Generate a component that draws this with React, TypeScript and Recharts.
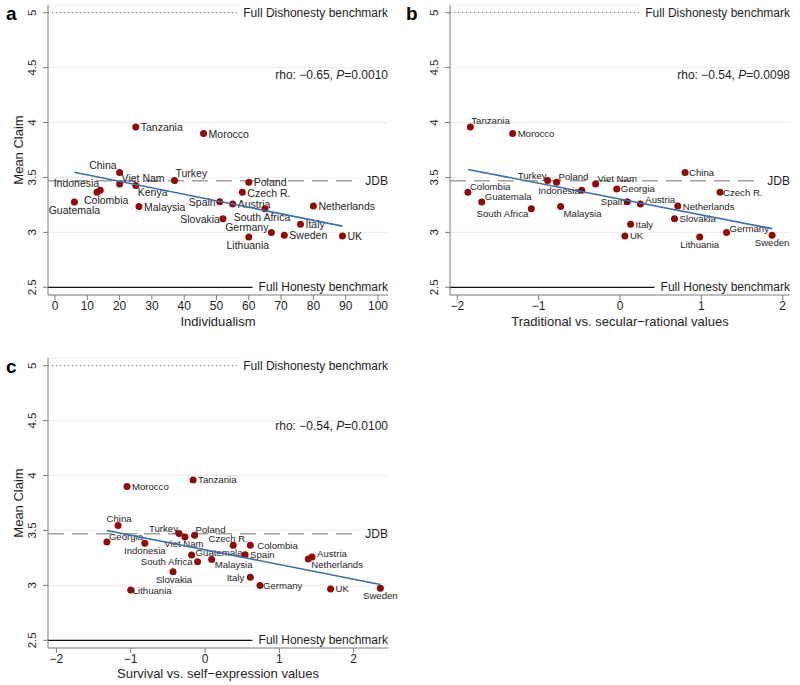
import React from 'react';
import { ScatterChart, Scatter, XAxis, YAxis, CartesianGrid, ReferenceLine } from 'recharts';

const FONT = '"Liberation Sans", Arial, Helvetica, sans-serif';
const DOT = '#8e0b0b';
const FIT = '#3f6f9f';
const AXIS = '#7d7d7d';
const INK = '#1e1e1e';

// ---------- data ----------
const countries = ['Tanzania', 'Morocco', 'China', 'Viet Nam', 'Kenya', 'Turkey', 'Indonesia', 'Colombia', 'Guatemala', 'Malaysia', 'Poland', 'Czech R.', 'Spain', 'Austria', 'South Africa', 'Netherlands', 'Slovakia', 'Italy', 'Germany', 'Sweden', 'Lithuania', 'UK', 'Georgia'];
const meanClaim = [3.96, 3.9, 3.545, 3.44, 3.427, 3.473, 3.383, 3.365, 3.277, 3.235, 3.457, 3.365, 3.278, 3.258, 3.215, 3.24, 3.125, 3.073, 3.0, 2.975, 2.958, 2.968, 3.395];
const individualism = [25, 46, 20, 20, 25, 37, 14, 13, 6, 26, 60, 58, 51, 55, 65, 80, 52, 76, 67, 71, 60, 89, null];
const tradSecular = [-1.84, -1.32, 0.8, -0.3, null, -0.89, -0.47, -1.87, -1.7, -0.73, -0.78, 1.23, 0.09, 0.25, -1.09, 0.71, 0.67, 0.13, 1.31, 1.87, 0.98, 0.06, -0.04];
const survSelf = [-0.16, -1.05, -1.17, -0.27, null, -0.35, -0.81, 0.61, -0.18, 0.09, -0.14, 0.38, 0.54, 1.44, -0.1, 1.39, -0.43, 0.61, 0.74, 2.36, -1.0, 1.69, -1.32];

const fitAx = [6, 89];
const fitAy = [3.548, 3.057];
const fitBx = [-1.87, 1.87];
const fitBy = [3.573, 3.034];
const fitCx = [-1.32, 2.36];
const fitCy = [3.5, 3.008];

const yTicks = [2.5, 3, 3.5, 4, 4.5, 5];
const xTicksA = [0, 10, 20, 30, 40, 50, 60, 70, 80, 90, 100];
const xTicksB = [-2, -1, 0, 1, 2];
const xTicksC = [-2, -1, 0, 1, 2];

const fullDishonesty = 5;
const fullHonesty = 2.5;
const jdb = 3.47;

const rhoA = '\u22120.65';
const pA = '0.0010';
const rhoB = '\u22120.54';
const pB = '0.0098';
const rhoC = '\u22120.54';
const pC = '0.0100';

// ---------- label placement (style) ----------
type LP = [string, number, number];
const labelA: Record<string, LP> = {
  'Tanzania': ['start', 5, 0], 'Morocco': ['start', 5, 0], 'China': ['end', -3, -8],
  'Viet Nam': ['start', 2, -6], 'Kenya': ['start', 2, 7], 'Turkey': ['start', 1, -7],
  'Indonesia': ['end', -1, -7], 'Colombia': ['start', -13, 8], 'Guatemala': ['middle', 0, 8],
  'Malaysia': ['start', 5, 0], 'Poland': ['start', 5, 0], 'Czech R.': ['start', 5, 1],
  'Spain': ['end', -4, 0], 'Austria': ['start', 5, 0], 'South Africa': ['middle', -3, 8],
  'Netherlands': ['start', 5, 0], 'Slovakia': ['end', -3, 0], 'Italy': ['start', 5, 0],
  'Germany': ['end', -3, -5], 'Sweden': ['start', 5, 0], 'Lithuania': ['middle', -1, 8],
  'UK': ['start', 5, 0],
};
const labelB: Record<string, LP> = {
  'Tanzania': ['start', 1, -6], 'Morocco': ['start', 5, 0], 'China': ['start', 4, 0],
  'Colombia': ['start', 2, -6], 'Guatemala': ['start', 3, -5], 'South Africa': ['end', -3, 5],
  'Turkey': ['end', -1, -5], 'Poland': ['start', 2, -6], 'Indonesia': ['end', -2, 0],
  'Viet Nam': ['start', 2, -6], 'Georgia': ['start', 4, 0], 'Malaysia': ['start', 3, 7],
  'Spain': ['end', -2, 0], 'Austria': ['start', 5, -5], 'Netherlands': ['start', 5, 0],
  'Czech R.': ['start', 3, 0], 'Slovakia': ['start', 5, 0], 'Italy': ['start', 5, 0],
  'UK': ['start', 5, 0], 'Lithuania': ['middle', 0, 7], 'Germany': ['start', 3, -4],
  'Sweden': ['middle', 0, 7],
};
const labelC: Record<string, LP> = {
  'Morocco': ['start', 5, 0], 'Tanzania': ['start', 5, 0], 'China': ['middle', 1, -7],
  'Georgia': ['start', 2, -5], 'Indonesia': ['middle', 0, 7], 'Turkey': ['end', -1, -5],
  'Poland': ['start', 1, -6], 'Viet Nam': ['middle', -1, 6], 'Czech R.': ['middle', -5, -7],
  'Colombia': ['start', 7, 0], 'Guatemala': ['start', 4, -2], 'Spain': ['start', 5, 0],
  'South Africa': ['end', -5, 0], 'Malaysia': ['start', 3, 5], 'Slovakia': ['middle', 1, 8],
  'Austria': ['start', 5, -4], 'Netherlands': ['start', 3, 5], 'Italy': ['end', -6, 0],
  'Germany': ['start', 3, 0], 'Lithuania': ['start', 2, 0], 'UK': ['start', 5, 0],
  'Sweden': ['middle', 0, 7],
};

const buildPoints = (xs: (number | null)[]) =>
  countries
    .map((n, i) => ({ name: n, x: xs[i], y: meanClaim[i] }))
    .filter((p) => p.x !== null);
const buildFit = (xs: number[], ys: number[]) => xs.map((x, i) => ({ x, y: ys[i] }));

const fmtY = (v: number) => String(v);
const fmtX = (v: number) => (v < 0 ? '\u2212' + Math.abs(v) : String(v));

const makeShape = (map: Record<string, LP>, fs: number) => (props: any) => {
  const { cx, cy, payload } = props;
  const l = map[payload.name] || ['start', 5, 0];
  return (
    <g>
      <circle cx={cx} cy={cy} r={3.5} fill={DOT} />
      <text x={cx + l[1]} y={cy + l[2]} textAnchor={l[0] as any} dominantBaseline="central" fontSize={fs} fontFamily={FONT} fill={INK}>
        {payload.name}
      </text>
    </g>
  );
};

const YTick = (props: any) => {
  const { x, y, payload } = props;
  const cx = x - 9;
  return (
    <text x={cx} y={y} transform={`rotate(-90 ${cx} ${y})`} textAnchor="middle" dominantBaseline="central" fontSize={11.5} fontFamily={FONT} fill={INK}>
      {fmtY(payload.value)}
    </text>
  );
};

const refLabel = (txt: string) => (props: any) => {
  const vb = props.viewBox || {};
  const x = (vb.x || 0) + (vb.width || 0);
  const y = vb.y || 0;
  return (
    <text x={x} y={y} textAnchor="end" dominantBaseline="central" fontSize={12} fontFamily={FONT} fill={INK}
      stroke="#ffffff" strokeWidth={14} strokeLinejoin="round" paintOrder="stroke">
      {txt}
    </text>
  );
};

type PanelProps = {
  letter: string;
  xs: (number | null)[];
  fitX: number[];
  fitY: number[];
  xDomain: [number, number];
  xTicks: number[];
  xTitle: string;
  labels: Record<string, LP>;
  labelFs: number;
  rho: string;
  p: string;
  showYTitle: boolean;
  width: number;
  height: number;
  yAxisWidth: number;
  rightMargin: number;
  xAxisHeight: number;
  xTitleY: number;
  rhoY: number;
};

const Panel = (pp: PanelProps) => {
  const pts = buildPoints(pp.xs);
  const fit = buildFit(pp.fitX, pp.fitY);
  const plotRight = pp.width - pp.rightMargin;
  const plotCenterX = (pp.yAxisWidth + plotRight) / 2;
  const plotTop = 5;
  const plotBottom = pp.height - pp.xAxisHeight;
  return (
    <ScatterChart width={pp.width} height={pp.height} margin={{ top: plotTop, right: pp.rightMargin, bottom: 0, left: 0 }}>
      <CartesianGrid horizontal vertical={false} stroke="#ececec" strokeWidth={1} />
      <XAxis type="number" dataKey="x" domain={pp.xDomain} ticks={pp.xTicks} interval={0}
        height={pp.xAxisHeight} tickSize={5} tickMargin={1} stroke={AXIS} tickFormatter={fmtX}
        tick={{ fill: INK, fontSize: 12, fontFamily: FONT }} />
      <YAxis type="number" dataKey="y" domain={[2.43, 5.07]} ticks={yTicks} interval={0}
        width={pp.yAxisWidth} tickSize={5} stroke={AXIS} tick={<YTick />} />
      <ReferenceLine y={fullDishonesty} stroke="#6a6a6a" strokeWidth={1} strokeDasharray="1 3" label={refLabel('Full Dishonesty benchmark')} />
      <ReferenceLine y={jdb} stroke="#a0a0a0" strokeWidth={1.5} strokeDasharray="16 8" label={refLabel('JDB')} />
      <ReferenceLine y={fullHonesty} stroke="#111111" strokeWidth={1.2} label={refLabel('Full Honesty benchmark')} />
      <Scatter data={pts} shape={makeShape(pp.labels, pp.labelFs)} isAnimationActive={false} />
      <Scatter data={fit} line={{ stroke: FIT, strokeWidth: 1.6 }} shape={() => <g />} isAnimationActive={false} />
      <text x={6} y={20} fontSize={19} fontWeight="bold" fontFamily={FONT} fill="#000">{pp.letter}</text>
      <text x={plotRight} y={pp.rhoY} textAnchor="end" dominantBaseline="central" fontSize={12} fontFamily={FONT} fill={INK}>
        {'rho: ' + pp.rho + ', '}<tspan fontStyle="italic">P</tspan>{'=' + pp.p}
      </text>
      <text x={plotCenterX} y={pp.xTitleY} textAnchor="middle" dominantBaseline="central" fontSize={13} fontFamily={FONT} fill={INK}>
        {pp.xTitle}
      </text>
      {pp.showYTitle ? (
        <text x={18} y={(plotTop + plotBottom) / 2} transform={`rotate(-90 18 ${(plotTop + plotBottom) / 2})`} textAnchor="middle" dominantBaseline="central" fontSize={13} fontFamily={FONT} fill={INK}>
          Mean Claim
        </text>
      ) : null}
    </ScatterChart>
  );
};

export default function App() {
  return (
    <div style={{ position: 'absolute', left: 0, top: 0, width: 800, height: 685, background: '#fff', fontFamily: FONT }}>
      <div style={{ position: 'absolute', left: 0, top: 0 }}>
        <Panel letter="a" xs={individualism} fitX={fitAx} fitY={fitAy} xDomain={[-2.17, 103.1]} xTicks={xTicksA}
          xTitle="Individualism" labels={labelA} labelFs={10.5} rho={rhoA} p={pA} showYTitle
          width={400} height={340} yAxisWidth={48} rightMargin={12} xAxisHeight={45} xTitleY={321} rhoY={75} />
      </div>
      <div style={{ position: 'absolute', left: 400, top: 0 }}>
        <Panel letter="b" xs={tradSecular} fitX={fitBx} fitY={fitBy} xDomain={[-2.09, 2.09]} xTicks={xTicksB}
          xTitle={'Traditional vs. secular\u2212rational values'} labels={labelB} labelFs={9.6} rho={rhoB} p={pB} showYTitle={false}
          width={400} height={340} yAxisWidth={50} rightMargin={10} xAxisHeight={45} xTitleY={321} rhoY={75} />
      </div>
      <div style={{ position: 'absolute', left: 0, top: 353 }}>
        <Panel letter="c" xs={survSelf} fitX={fitCx} fitY={fitCy} xDomain={[-2.113, 2.463]} xTicks={xTicksC}
          xTitle={'Survival vs. self\u2212expression values'} labels={labelC} labelFs={9.6} rho={rhoC} p={pC} showYTitle
          width={400} height={332} yAxisWidth={48} rightMargin={12} xAxisHeight={37} xTitleY={320} rhoY={73} />
      </div>
    </div>
  );
}
